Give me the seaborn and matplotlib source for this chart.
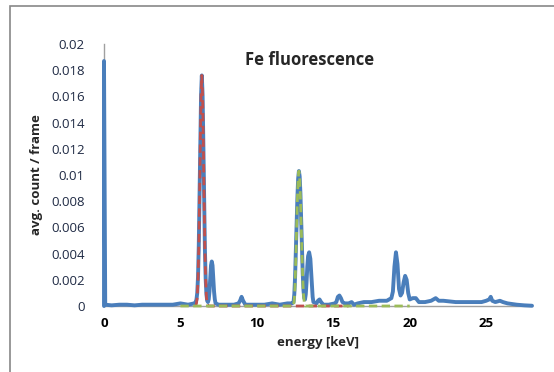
import matplotlib
matplotlib.use("Agg")
import matplotlib.pyplot as plt
import seaborn as sns
import pandas as pd
from matplotlib.patches import Rectangle

sns.set_theme(style="white")
plt.rcParams['font.family'] = ['Open Sans', 'DejaVu Sans']

# measured spectrum (energy keV, avg. count / frame)
energy = [0.0, 0.0, 0.08, 0.5, 1.0, 1.5, 2.0, 2.5, 3.0, 3.5, 4.0, 4.5, 5.0, 5.5, 5.9,
          6.0, 6.05, 6.1, 6.15, 6.2, 6.25, 6.3, 6.35, 6.4, 6.45, 6.5, 6.55, 6.6, 6.65, 6.7, 6.75,
          6.8, 6.85, 6.9, 6.95, 7.0, 7.05, 7.1, 7.15, 7.2, 7.25, 7.3,
          7.5, 8.0, 8.5, 8.8, 8.9, 9.0, 9.1, 9.25, 9.5, 10.0, 10.5, 11.0, 11.5, 12.0, 12.3,
          12.4, 12.45, 12.5, 12.55, 12.6, 12.65, 12.7, 12.75, 12.8, 12.85, 12.9, 12.95, 13.0, 13.05, 13.1, 13.15,
          13.2, 13.25, 13.3, 13.35, 13.42, 13.5, 13.55, 13.6, 13.65, 13.7,
          13.9, 14.0, 14.1, 14.2, 14.35, 14.7, 15.1,
          15.2, 15.3, 15.4, 15.5, 15.6, 15.75, 16.0, 16.2, 16.35, 16.6, 17.0, 17.5, 18.0, 18.5, 18.8,
          18.9, 19.0, 19.1, 19.2, 19.3, 19.4, 19.5, 19.6, 19.7, 19.8, 19.9, 20.0,
          20.2, 20.4, 20.6, 21.0, 21.4, 21.7, 21.9, 22.2, 23.0, 24.0, 24.7, 25.0,
          25.2, 25.3, 25.4, 25.6, 25.9, 26.1, 26.4, 27.0, 27.5, 28.0]
counts = [0.0, 0.0187, 0.0001, 0.00005, 0.0001, 0.0001, 0.00005, 0.0001, 0.0001, 0.0001, 0.0001, 0.0001, 0.0002, 0.0001, 0.0002,
          0.0003, 0.0005, 0.0010, 0.0022, 0.0046, 0.0083, 0.0125, 0.0161, 0.0176, 0.0161, 0.0124, 0.0081, 0.0044, 0.0021, 0.0009, 0.0004,
          0.0003, 0.0005, 0.0011, 0.0021, 0.0031, 0.0034, 0.0031, 0.0021, 0.0011, 0.0005, 0.0002,
          0.0001, 0.0001, 0.0001, 0.0002, 0.0004, 0.0007, 0.0004, 0.0001, 0.0001, 0.0001, 0.0001, 0.0002, 0.0001, 0.0002, 0.0002,
          0.0003, 0.0009, 0.0022, 0.0041, 0.0062, 0.0082, 0.0097, 0.0103, 0.0099, 0.0086, 0.0066, 0.0045, 0.0025, 0.0012, 0.0006, 0.0005,
          0.0009, 0.0018, 0.0030, 0.0038, 0.0041, 0.0036, 0.0026, 0.0015, 0.0007, 0.0003,
          0.0002, 0.0004, 0.0005, 0.0003, 0.0001, 0.0001, 0.0002,
          0.0003, 0.0007, 0.0008, 0.0006, 0.0003, 0.0002, 0.0002, 0.0003, 0.0001, 0.0002, 0.0003, 0.0003, 0.0004, 0.0004, 0.0006,
          0.0011, 0.0030, 0.0041, 0.0032, 0.0013, 0.0008, 0.0010, 0.0018, 0.0023, 0.0020, 0.0010, 0.0005,
          0.0006, 0.0006, 0.0003, 0.0003, 0.0004, 0.0006, 0.0004, 0.0004, 0.0003, 0.0003, 0.0003, 0.0004,
          0.0005, 0.0007, 0.0004, 0.0003, 0.0004, 0.0003, 0.0002, 0.0001, 0.00005, 0.00002]

# Gaussian fit of Fe K-alpha (red dashed)
fit1_energy = [6.0, 6.05, 6.1, 6.15, 6.2, 6.25, 6.3, 6.35, 6.4, 6.45, 6.5, 6.55, 6.6, 6.65, 6.7, 6.75, 6.8, 16.0]
fit1_counts = [0.0, 0.0002, 0.0007, 0.0020, 0.0044, 0.0081, 0.0124, 0.0161, 0.0176, 0.0161, 0.0124, 0.0081, 0.0044, 0.0020, 0.0007, 0.0002, 0.0, 0.0]

# Gaussian fit of the pile-up peak (green dashed)
fit2_energy = [5.0, 12.4, 12.45, 12.5, 12.55, 12.6, 12.65, 12.7, 12.75, 12.8, 12.85, 12.9, 12.95, 13.0, 13.05, 13.1, 13.15, 20.0]
fit2_counts = [0.0, 0.0, 0.0005, 0.0016, 0.0036, 0.0059, 0.0081, 0.0097, 0.0103, 0.0098, 0.0083, 0.0062, 0.0040, 0.0022, 0.0009, 0.0003, 0.0, 0.0]

x_ticks = [0, 5, 10, 15, 20, 25]
y_ticks = [0, 0.002, 0.004, 0.006, 0.008, 0.01, 0.012, 0.014, 0.016, 0.018, 0.02]
y_tick_labels = ["0", "0.002", "0.004", "0.006", "0.008", "0.01", "0.012", "0.014", "0.016", "0.018", "0.02"]

df = pd.DataFrame({"energy": energy, "counts": counts})
df1 = pd.DataFrame({"energy": fit1_energy, "counts": fit1_counts})
df2 = pd.DataFrame({"energy": fit2_energy, "counts": fit2_counts})

fig = plt.figure(figsize=(5.54, 3.72), dpi=100)
W, H = 554, 372
ax = fig.add_axes([104 / W, 1 - 306 / H, (532 - 104) / W, (306 - 44) / H])

sns.lineplot(data=df, x="energy", y="counts", ax=ax, color="#4A7EBB", lw=2.8,
             sort=False, estimator=None, solid_joinstyle="round", clip_on=False, zorder=3)
sns.lineplot(data=df1, x="energy", y="counts", ax=ax, color="#C0504D", lw=2.0,
             sort=False, estimator=None, dashes=False, linestyle=(0, (3, 1.6)), clip_on=False, zorder=4)
sns.lineplot(data=df2, x="energy", y="counts", ax=ax, color="#9BBB59", lw=2.0,
             sort=False, estimator=None, dashes=False, linestyle=(0, (3, 1.6)), clip_on=False, zorder=5)

ax.set_xlim(0, 28)
ax.set_ylim(0, 0.02)
ax.set_xticks(x_ticks)
ax.set_xticklabels([str(t) for t in x_ticks], fontweight="bold", fontsize=9.5, color="black")
ax.set_yticks(y_ticks)
ax.set_yticklabels(y_tick_labels, fontsize=9.5, color="#1F2A44")
ax.tick_params(axis="both", length=0)
ax.tick_params(axis="y", pad=14)
ax.tick_params(axis="x", pad=8)
ax.set_xlabel("energy [keV]", fontweight="bold", fontsize=9.5, labelpad=4)
ax.set_ylabel("avg. count / frame", fontweight="bold", fontsize=9.5, labelpad=6)
ax.text(0.48, 0.94, "Fe fluorescence", transform=ax.transAxes, ha="center", va="center",
        fontweight="bold", fontsize=12)

for s in ["top", "right"]:
    ax.spines[s].set_visible(False)
for s in ["left", "bottom"]:
    ax.spines[s].set_color("#A0A0A0")
    ax.spines[s].set_linewidth(1.0)
    ax.spines[s].set_zorder(1)
ax.grid(False)
if ax.get_legend():
    ax.get_legend().remove()

# chart border
fig.add_artist(Rectangle((10 / W, -0.05), 1.1, 1 - 6 / H + 0.05, transform=fig.transFigure,
                         fill=False, edgecolor="#888888", lw=1.2))

fig.savefig("out.png", dpi=100)
